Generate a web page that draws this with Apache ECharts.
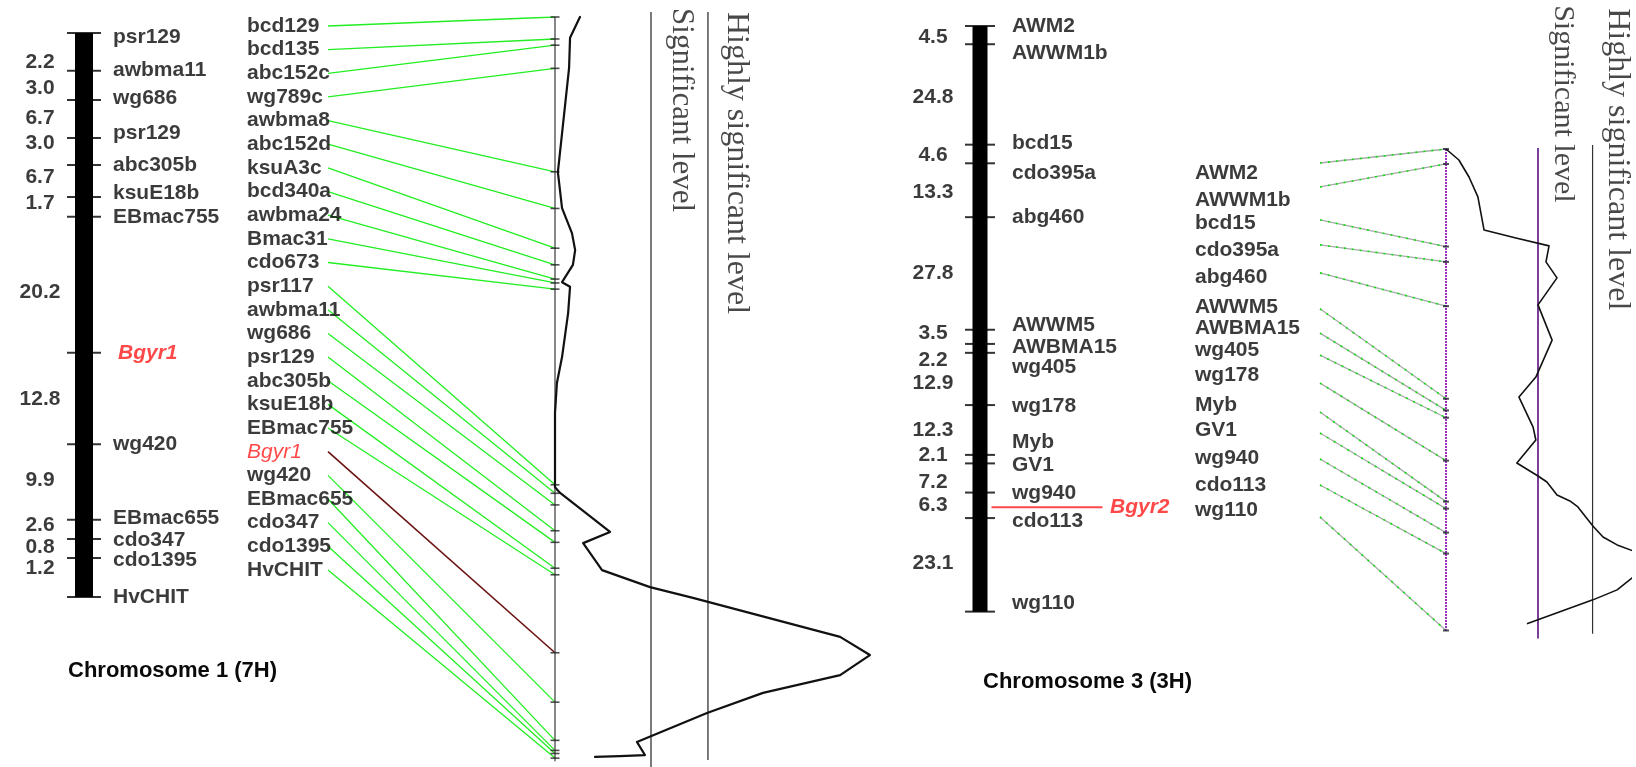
<!DOCTYPE html>
<html><head><meta charset="utf-8">
<script src="https://cdn.jsdelivr.net/npm/echarts@6/dist/echarts.min.js"></script>
<style>html,body{margin:0;padding:0;background:#fff}#c{width:1636px;height:767px}</style>
</head><body><div id="c"></div>
<script>
// ===== Chromosome 1 (7H): drawn linkage map (drawing is not to scale: 0 = top, 100 = bottom) =====
const chr1MapMarkers = ['psr129','awbma11','wg686','psr129','abc305b','ksuE18b','EBmac755','Bgyr1','wg420','EBmac655','cdo347','cdo1395','HvCHIT'];
const chr1MapIntervals = ['2.2','3.0','6.7','3.0','6.7','1.7','20.2','12.8','9.9','2.6','0.8','1.2'];
const chr1MapTickPos = [0,6.7,11.9,18.6,23.4,29.1,32.6,56.7,72.9,86.3,89.7,93.1,100];
const chr1MapLabelPos = [0.7,6.6,11.5,17.7,23.4,28.4,32.6,56.7,72.9,86.0,89.9,93.4,100];
const chr1IntervalLabelPos = [5.1,9.8,15.1,19.5,25.5,30.1,45.9,64.9,79.3,87.2,91.1,94.9];

// ===== Chromosome 1: QTL scan markers (cM along the LOD axis) =====
const chr1ListMarkers = ['bcd129','bcd135','abc152c','wg789c','awbma8','abc152d','ksuA3c','bcd340a','awbma24','Bmac31','cdo673','psr117','awbma11','wg686','psr129','abc305b','ksuE18b','EBmac755','Bgyr1','wg420','EBmac655','cdo347','cdo1395','HvCHIT'];
const chr1ListCM = [0,5.7,7.3,13.3,40.1,49.6,59.9,64.2,67.9,68.9,70.5,121.2,123.4,126.4,133.1,136.1,142.8,144.5,164.7,177.5,187.4,190.0,190.8,192.0];
const chr1ListRowStartCM = 2.33, chr1ListRowStepCM = 6.127; // layout of the label column
const chr1LodPosCM = [0,5.4,13.2,40.2,49.5,56.0,60.4,64.2,68.7,69.9,76.7,88.1,94.8,102.6,116.6,121.8,123.3,133.4,136.3,143.3,147.7,150.5,160.6,165.3,170.5,175.1,180.3,187.8,191.2,191.5,191.7];
const chr1Lod = [0.78,0.47,0.44,0.09,0.22,0.53,0.63,0.56,0.22,0.47,0.41,0.22,0.06,0,0,0,0.16,1.72,0.88,1.47,2.97,4.31,8.91,9.84,8.91,6.5,4.75,2.56,2.81,2.03,1.25];

// ===== Chromosome 3 (3H): linkage map (cM, to scale) =====
const chr3Markers = ['AWM2','AWWM1b','bcd15','cdo395a','abg460','AWWM5','AWBMA15','wg405','wg178','Myb','GV1','wg940','cdo113','wg110'];
const chr3Intervals = ['4.5','24.8','4.6','13.3','27.8','3.5','2.2','12.9','12.3','2.1','7.2','6.3','23.1'];
const chr3MarkerCM = [0,4.5,29.3,33.9,47.2,75.0,78.5,80.7,93.6,105.9,108.0,115.2,121.5,144.6];
const chr3MapLabelPos = [0,6.6,28.9,36.3,47.2,73.8,79.3,84.2,93.8,102.7,108.4,115.3,122.2,142.5];
const chr3IntervalLabelPos = [2.7,17.5,31.9,41.0,61.0,75.8,82.5,88.2,99.8,105.9,112.6,118.3,132.6];
const chr3GeneName = 'Bgyr2', chr3GeneCM = 118.8;

// ===== Chromosome 3: QTL scan =====
const chr3ListLabelPos = [7.2,15.3,22.2,30.3,38.4,47.4,53.8,60.4,67.9,76.9,84.4,92.8,100.9,108.4];
const chr3ListLinkPos = [4.2,11.4,21.3,28.8,37.2,48.0,55.3,61.9,70.3,79.0,85.3,93.1,100.9,110.5];
const chr3LodPosCM = [0,3.3,8.4,14.4,24.3,26.7,29.1,33.9,38.7,46.8,57.4,68.5,74.5,83.5,87.4,94.3,98.2,100.0,103.9,105.7,107.5,113.2,116.5,118.9,121.0,124.5,127.9,132.4,135.4,142.6];
const chr3Lod = [0,0.42,0.75,1.04,1.24,2.28,3.36,3.26,3.62,3.0,3.46,2.93,2.38,2.84,2.93,2.31,3.0,3.29,3.62,4.04,4.30,4.79,5.12,5.58,6.19,7.0,6.19,5.58,4.79,2.64];

// thresholds (LOD)
const sigLevel = 3.0, highSigLevel = 4.78;
const thresholdNames = ['Significant level', 'Highly significant level'];

// ================= chart =================
const F = 'Liberation Sans, Arial, sans-serif';
const SERIF = 'Liberation Serif, Times New Roman, serif';
const INK = '#0a0a0a';
const chart = echarts.init(document.getElementById('c'));

const grids = [
  {left: 75, width: 18, top: 33, height: 564},          // 0 chr1 map
  {left: 328, width: 227, top: 17, height: 741.12},     // 1 chr1 connectors
  {left: 555, width: 320, top: 17, height: 741.12},     // 2 chr1 LOD
  {left: 972.5, width: 15, top: 26, height: 585.63},    // 3 chr3 map
  {left: 1320, width: 126, top: 149, height: 481.5},    // 4 chr3 connectors
  {left: 1446, width: 184, top: 149, height: 481.5}     // 5 chr3 LOD
];
const xr = [[0,1],[0,1],[0,10],[0,1],[0,1],[0,6]];
const yr = [[0,100],[0,192],[0,192],[0,144.6],[0,144.6],[0,144.6]];
const ax = (g, r, inv) => ({type: 'value', gridIndex: g, min: r[0], max: r[1], inverse: inv, show: false, splitLine: {show: false}});

function txt(g, data, label, z) {
  return {type: 'scatter', xAxisIndex: g, yAxisIndex: g, symbolSize: 1, silent: true, clip: false, z: z || 6,
    itemStyle: {color: 'rgba(0,0,0,0)'},
    label: Object.assign({show: true, position: 'inside', formatter: '{b}', color: INK,
      fontFamily: F, fontWeight: 'bold', fontSize: 21}, label),
    data: data};
}
function seg(g, pts, style, z) {
  return {type: 'line', xAxisIndex: g, yAxisIndex: g, data: pts, symbol: 'none', silent: true, clip: false,
    z: z || 3, lineStyle: Object.assign({cap: 'butt'}, style)};
}
function ticks(g, pts, size, color) {
  return {type: 'scatter', xAxisIndex: g, yAxisIndex: g, symbol: 'rect', symbolSize: size, silent: true, clip: false, z: 4,
    itemStyle: {color: color}, data: pts};
}
const redLabel = {color: '#ff1a1a', fontStyle: 'italic'};
// rotated (top-to-bottom) threshold captions; offset is in the rotated text frame
const capStyle = {rotate: -90, align: 'left', verticalAlign: 'middle', fontFamily: SERIF, fontWeight: 'normal', color: '#1a1a1a'};

const series = [];
// ---- chr1 map ----
series.push(seg(0, [[0.5,0],[0.5,100]], {width: 18, color: '#000'}));
series.push(ticks(0, chr1MapTickPos.map(p => [0.5, p]), [34, 2], '#000'));
series.push(txt(0, chr1MapMarkers.map((m, i) => ({name: m, value: [0.5, chr1MapLabelPos[i]],
  label: m === 'Bgyr1' ? Object.assign({offset: [34, 0]}, redLabel) : undefined})),
  {align: 'left', offset: [29, 0]}));
series.push(txt(0, chr1MapIntervals.map((v, i) => ({name: v, value: [0.5, chr1IntervalLabelPos[i]]})),
  {align: 'center', offset: [-44, 0]}));

// ---- chr1 connectors & list ----
const rowCM = i => chr1ListRowStartCM + i * chr1ListRowStepCM;
series.push({type: 'lines', coordinateSystem: 'cartesian2d', xAxisIndex: 1, yAxisIndex: 1, silent: true, z: 2,
  lineStyle: {color: '#22ee22', width: 1.3, opacity: 1},
  data: chr1ListMarkers.map((m, i) => ({coords: [[0, rowCM(i)], [1, chr1ListCM[i]]],
    lineStyle: m === 'Bgyr1' ? {color: '#6b1212', width: 1.6, opacity: 1} : undefined}))});
series.push(txt(1, chr1ListMarkers.map((m, i) => ({name: m, value: [0, rowCM(i)],
  label: m === 'Bgyr1' ? {color: '#ff1a1a', fontStyle: 'italic', fontWeight: 'normal'} : undefined})),
  {align: 'left', offset: [-81, 0]}));

// ---- chr1 LOD panel ----
series.push(seg(2, [[0, 0], [0, 192.8]], {width: 1.4, color: '#555'}));
series.push(ticks(2, chr1ListCM.map(c => [0, c]), [9, 1.6], '#222'));
series.push(seg(2, chr1Lod.map((v, i) => [v, chr1LodPosCM[i]]), {width: 2.2, color: '#111', cap: 'round', join: 'round'}, 5));
series.push(seg(2, [[sigLevel, -1.3], [sigLevel, 194.3]], {width: 1.3, color: '#333'}));
series.push(seg(2, [[highSigLevel, -1.3], [highSigLevel, 192.5]], {width: 1.3, color: '#333'}));
series.push(txt(2, [
  {name: thresholdNames[0], value: [sigLevel, -2.3], label: {offset: [0, -30], fontSize: 31}},
  {name: thresholdNames[1], value: [highSigLevel, -1.3], label: {offset: [0, -28], fontSize: 32}}],
  capStyle));

// ---- chr3 map ----
series.push(seg(3, [[0.5, 0], [0.5, 144.6]], {width: 15, color: '#000'}));
series.push(ticks(3, chr3MarkerCM.map(c => [0.5, c]), [30, 2], '#000'));
series.push(txt(3, chr3Markers.map((m, i) => ({name: m, value: [0.5, chr3MapLabelPos[i]]})),
  {align: 'left', offset: [32, 0]}));
series.push(txt(3, chr3Intervals.map((v, i) => ({name: v, value: [0.5, chr3IntervalLabelPos[i]]})),
  {align: 'center', offset: [-47, 0]}));
series.push({type: 'scatter', xAxisIndex: 3, yAxisIndex: 3, symbol: 'rect', symbolSize: [111, 2], symbolOffset: [67, 0],
  silent: true, clip: false, z: 4, itemStyle: {color: '#ff1a1a'}, data: [[0.5, chr3GeneCM]]});
series.push(txt(3, [{name: chr3GeneName, value: [0.5, chr3GeneCM]}],
  Object.assign({align: 'left', offset: [130, 0]}, redLabel)));

// ---- chr3 connectors & list ----
const chr3Links = chr3Markers.map((m, i) => ({coords: [[0, chr3ListLinkPos[i]], [1, chr3MarkerCM[i]]]}));
series.push({type: 'lines', coordinateSystem: 'cartesian2d', xAxisIndex: 4, yAxisIndex: 4, silent: true, z: 2,
  lineStyle: {color: '#a6ada6', width: 1.3, opacity: 1}, data: chr3Links});
series.push({type: 'lines', coordinateSystem: 'cartesian2d', xAxisIndex: 4, yAxisIndex: 4, silent: true, z: 2,
  lineStyle: {color: '#11dd11', width: 1.6, opacity: 1, type: [2, 6]}, data: chr3Links});
series.push(txt(4, chr3Markers.map((m, i) => ({name: m, value: [0, chr3ListLabelPos[i]]})),
  {align: 'left', offset: [-125, 0]}));

// ---- chr3 LOD panel ----
series.push(seg(5, [[0, 0], [0, 144.6]], {width: 2, color: '#9a30b8', type: [2, 1]}));
series.push(ticks(5, chr3MarkerCM.map(c => [0, c]), [6, 2], '#223'));
series.push(seg(5, chr3Lod.map((v, i) => [v, chr3LodPosCM[i]]), {width: 1.6, color: '#111', join: 'round'}, 5));
series.push(seg(5, [[sigLevel, -0.3], [sigLevel, 147.0]], {width: 2, color: '#7a3f9a'}));
series.push(seg(5, [[highSigLevel, -1.2], [highSigLevel, 145.6]], {width: 1.2, color: '#333'}));
series.push(txt(5, [
  {name: thresholdNames[0], value: [sigLevel, -43.2], label: {offset: [0, -25], fontSize: 30}},
  {name: thresholdNames[1], value: [highSigLevel, -42.3], label: {offset: [0, -25], fontSize: 32}}],
  capStyle));

chart.setOption({
  animation: false,
  backgroundColor: '#fff',
  title: [
    {text: 'Chromosome 1 (7H)', left: 68, top: 660, padding: 0,
      textStyle: {fontFamily: F, fontSize: 22, fontWeight: 'bold', color: INK}},
    {text: 'Chromosome 3 (3H)', left: 983, top: 671, padding: 0,
      textStyle: {fontFamily: F, fontSize: 22, fontWeight: 'bold', color: INK}}
  ],
  grid: grids,
  xAxis: grids.map((g, i) => ax(i, xr[i], false)),
  yAxis: grids.map((g, i) => ax(i, yr[i], true)),
  series: series
});
</script>
</body></html>
